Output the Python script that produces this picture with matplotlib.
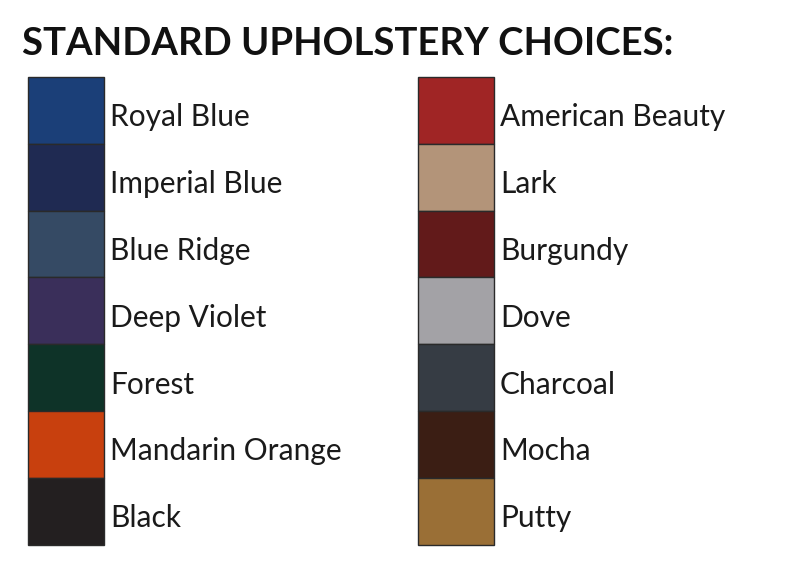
import matplotlib
matplotlib.use("Agg")
import matplotlib.pyplot as plt

title = "STANDARD UPHOLSTERY CHOICES:"
left_names = ["Royal Blue", "Imperial Blue", "Blue Ridge", "Deep Violet", "Forest", "Mandarin Orange", "Black"]
left_colors = ["#1b3f78", "#1f2a52", "#354a64", "#3a2f5a", "#0e3328", "#c8400e", "#231f20"]
right_names = ["American Beauty", "Lark", "Burgundy", "Dove", "Charcoal", "Mocha", "Putty"]
right_colors = ["#a02525", "#b39479", "#621a1a", "#a3a2a6", "#363c44", "#3b1e14", "#9a6f36"]

fig = plt.figure(figsize=(8, 5.7), dpi=100)
ax = fig.add_axes([0, 0, 1, 1])
ax.set_xlim(0, 800)
ax.set_ylim(570, 0)
ax.axis("off")

ax.text(22, 44, title, fontsize=27.5, fontweight="bold", family=["Lato", "DejaVu Sans"],
        va="center", ha="left", color="#111111")

top, h = 77, 66.8
for col_x, names, colors in [(28, left_names, left_colors), (418, right_names, right_colors)]:
    ys = [top + i * h for i in range(len(names))]
    ax.bar([col_x] * len(names), [h] * len(names), bottom=ys, width=76, align="edge",
           color=colors, edgecolor="#2a2a2a", linewidth=1.0)
    for y, n in zip(ys, names):
        ax.text(col_x + 82, y + h / 2 + 7, n, fontsize=21.5, family=["Lato", "DejaVu Sans"],
                va="center", ha="left", color="#1a1a1a")

fig.savefig("out.png", dpi=100)
